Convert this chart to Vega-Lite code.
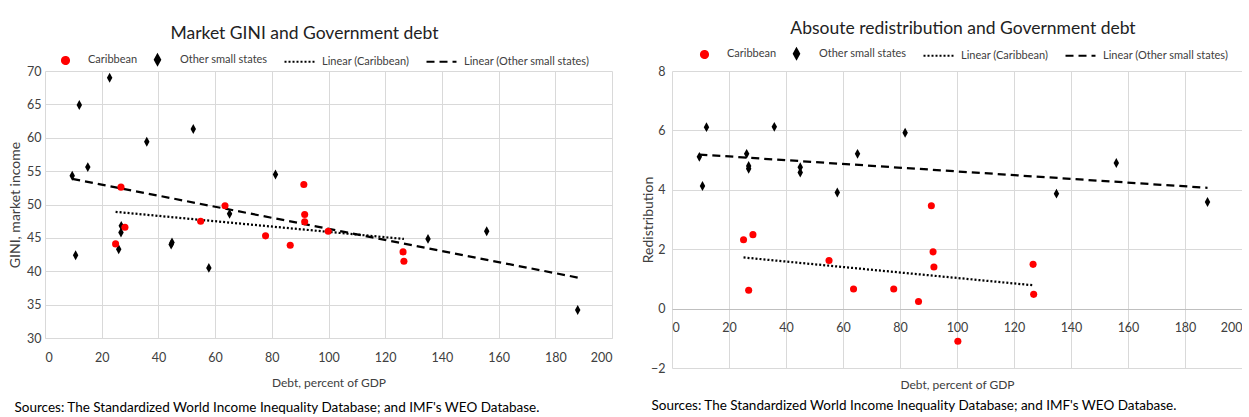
{
  "$schema": "https://vega.github.io/schema/vega-lite/v6.json",
  "background": "white",
  "padding": {"left": 8, "top": 19, "right": 0, "bottom": 0},
  "datasets": {
    "gini": [
      {"debt": 9.6, "value": 54.3, "series": "Other small states", "trend": "Linear (Other small states)"},
      {"debt": 12.1, "value": 64.9, "series": "Other small states", "trend": "Linear (Other small states)"},
      {"debt": 15.1, "value": 55.6, "series": "Other small states", "trend": "Linear (Other small states)"},
      {"debt": 22.8, "value": 69.0, "series": "Other small states", "trend": "Linear (Other small states)"},
      {"debt": 35.9, "value": 59.4, "series": "Other small states", "trend": "Linear (Other small states)"},
      {"debt": 52.3, "value": 61.3, "series": "Other small states", "trend": "Linear (Other small states)"},
      {"debt": 81.3, "value": 54.5, "series": "Other small states", "trend": "Linear (Other small states)"},
      {"debt": 10.8, "value": 42.4, "series": "Other small states", "trend": "Linear (Other small states)"},
      {"debt": 26.9, "value": 46.8, "series": "Other small states", "trend": "Linear (Other small states)"},
      {"debt": 26.8, "value": 45.8, "series": "Other small states", "trend": "Linear (Other small states)"},
      {"debt": 26.0, "value": 43.3, "series": "Other small states", "trend": "Linear (Other small states)"},
      {"debt": 44.5, "value": 44.0, "series": "Other small states", "trend": "Linear (Other small states)"},
      {"debt": 44.8, "value": 44.3, "series": "Other small states", "trend": "Linear (Other small states)"},
      {"debt": 57.8, "value": 40.5, "series": "Other small states", "trend": "Linear (Other small states)"},
      {"debt": 65.1, "value": 48.6, "series": "Other small states", "trend": "Linear (Other small states)"},
      {"debt": 135.1, "value": 44.85, "series": "Other small states", "trend": "Linear (Other small states)"},
      {"debt": 155.8, "value": 46.0, "series": "Other small states", "trend": "Linear (Other small states)"},
      {"debt": 187.9, "value": 34.2, "series": "Other small states", "trend": "Linear (Other small states)"},
      {"debt": 26.8, "value": 52.6, "series": "Caribbean", "trend": "Linear (Caribbean)"},
      {"debt": 91.3, "value": 53.0, "series": "Caribbean", "trend": "Linear (Caribbean)"},
      {"debt": 63.5, "value": 49.8, "series": "Caribbean", "trend": "Linear (Caribbean)"},
      {"debt": 24.9, "value": 44.1, "series": "Caribbean", "trend": "Linear (Caribbean)"},
      {"debt": 28.2, "value": 46.6, "series": "Caribbean", "trend": "Linear (Caribbean)"},
      {"debt": 54.9, "value": 47.5, "series": "Caribbean", "trend": "Linear (Caribbean)"},
      {"debt": 91.6, "value": 48.5, "series": "Caribbean", "trend": "Linear (Caribbean)"},
      {"debt": 91.6, "value": 47.4, "series": "Caribbean", "trend": "Linear (Caribbean)"},
      {"debt": 77.8, "value": 45.3, "series": "Caribbean", "trend": "Linear (Caribbean)"},
      {"debt": 86.5, "value": 43.9, "series": "Caribbean", "trend": "Linear (Caribbean)"},
      {"debt": 99.9, "value": 46.0, "series": "Caribbean", "trend": "Linear (Caribbean)"},
      {"debt": 126.3, "value": 42.9, "series": "Caribbean", "trend": "Linear (Caribbean)"},
      {"debt": 126.6, "value": 41.5, "series": "Caribbean", "trend": "Linear (Caribbean)"}
    ],
    "redis": [
      {"debt": 9.6, "value": 5.11, "series": "Other small states", "trend": "Linear (Other small states)"},
      {"debt": 10.7, "value": 4.13, "series": "Other small states", "trend": "Linear (Other small states)"},
      {"debt": 12.1, "value": 6.11, "series": "Other small states", "trend": "Linear (Other small states)"},
      {"debt": 26.2, "value": 5.21, "series": "Other small states", "trend": "Linear (Other small states)"},
      {"debt": 26.9, "value": 4.8, "series": "Other small states", "trend": "Linear (Other small states)"},
      {"debt": 26.9, "value": 4.71, "series": "Other small states", "trend": "Linear (Other small states)"},
      {"debt": 35.9, "value": 6.12, "series": "Other small states", "trend": "Linear (Other small states)"},
      {"debt": 45.0, "value": 4.76, "series": "Other small states", "trend": "Linear (Other small states)"},
      {"debt": 45.0, "value": 4.58, "series": "Other small states", "trend": "Linear (Other small states)"},
      {"debt": 58.0, "value": 3.91, "series": "Other small states", "trend": "Linear (Other small states)"},
      {"debt": 65.1, "value": 5.21, "series": "Other small states", "trend": "Linear (Other small states)"},
      {"debt": 81.8, "value": 5.92, "series": "Other small states", "trend": "Linear (Other small states)"},
      {"debt": 134.9, "value": 3.87, "series": "Other small states", "trend": "Linear (Other small states)"},
      {"debt": 155.9, "value": 4.9, "series": "Other small states", "trend": "Linear (Other small states)"},
      {"debt": 187.9, "value": 3.59, "series": "Other small states", "trend": "Linear (Other small states)"},
      {"debt": 25.1, "value": 2.32, "series": "Caribbean", "trend": "Linear (Caribbean)"},
      {"debt": 28.4, "value": 2.49, "series": "Caribbean", "trend": "Linear (Caribbean)"},
      {"debt": 26.9, "value": 0.62, "series": "Caribbean", "trend": "Linear (Caribbean)"},
      {"debt": 55.1, "value": 1.62, "series": "Caribbean", "trend": "Linear (Caribbean)"},
      {"debt": 63.7, "value": 0.66, "series": "Caribbean", "trend": "Linear (Caribbean)"},
      {"debt": 77.8, "value": 0.66, "series": "Caribbean", "trend": "Linear (Caribbean)"},
      {"debt": 86.5, "value": 0.24, "series": "Caribbean", "trend": "Linear (Caribbean)"},
      {"debt": 91.0, "value": 3.46, "series": "Caribbean", "trend": "Linear (Caribbean)"},
      {"debt": 91.6, "value": 1.91, "series": "Caribbean", "trend": "Linear (Caribbean)"},
      {"debt": 91.9, "value": 1.4, "series": "Caribbean", "trend": "Linear (Caribbean)"},
      {"debt": 100.3, "value": -1.1, "series": "Caribbean", "trend": "Linear (Caribbean)"},
      {"debt": 126.7, "value": 1.49, "series": "Caribbean", "trend": "Linear (Caribbean)"},
      {"debt": 126.9, "value": 0.48, "series": "Caribbean", "trend": "Linear (Caribbean)"}
    ]
  },
  "hconcat": [
    {
      "title": {"text": "Sources: The Standardized World Income Inequality Database; and IMF's WEO Database.", "orient": "bottom", "anchor": "start", "fontSize": 13.5, "fontWeight": "normal", "color": "#000000", "offset": 12, "dx": 6},
      "resolve": {"scale": {"color": "independent", "shape": "independent", "strokeDash": "independent"}, "legend": {"color": "independent", "shape": "independent", "strokeDash": "independent"}},
      "vconcat": [
        {
          "width": 567,
          "height": 267,
          "title": {"text": "Market GINI and Government debt", "fontSize": 17.5, "fontWeight": "normal", "color": "#222222", "offset": 12, "anchor": "middle", "dx": -24},
          "data": {"name": "gini"},
          "encoding": {
            "x": {"field": "debt", "type": "quantitative", "scale": {"domain": [0, 200], "nice": false, "zero": false},
                  "axis": {"values": [0, 20, 40, 60, 80, 100, 120, 140, 160, 180, 200], "title": "Debt, percent of GDP", "labelPadding": 13, "titlePadding": 14, "domain": true, "domainColor": "#d9d9d9"}},
            "y": {"field": "value", "type": "quantitative", "scale": {"domain": [30, 70], "nice": false, "zero": false},
                  "axis": {"values": [30, 35, 40, 45, 50, 55, 60, 65, 70], "title": "GINI, market income", "titleFontSize": 14, "labelPadding": 4, "titlePadding": 4, "domain": false}}
          },
          "layer": [
            {
              "transform": [{"regression": "value", "on": "debt", "groupby": ["trend"]}],
              "mark": {"type": "line", "strokeWidth": 2.25},
              "encoding": {
                "color": {"field": "trend", "type": "nominal",
                  "scale": {"domain": ["Caribbean", "Other small states", "Linear (Caribbean)", "Linear (Other small states)"], "range": ["#ff0000", "#000000", "#000000", "#000000"]},
                  "legend": {"orient": "none", "legendX": 15, "legendY": -17, "direction": "horizontal", "title": null}},
                "strokeDash": {"field": "trend", "type": "nominal",
                  "scale": {"domain": ["Caribbean", "Other small states", "Linear (Caribbean)", "Linear (Other small states)"], "range": [[1, 0], [1, 0], [2, 2], [8, 5]]},
                  "legend": {"orient": "none", "legendX": 15, "legendY": -17, "direction": "horizontal", "title": null}}
              }
            },
            {
              "mark": {"type": "point", "filled": true, "opacity": 1, "size": 50},
              "encoding": {
                "color": {"field": "series", "type": "nominal",
                  "scale": {"domain": ["Caribbean", "Other small states", "Linear (Caribbean)", "Linear (Other small states)"], "range": ["#ff0000", "#000000", "#000000", "#000000"]}},
                "shape": {"field": "series", "type": "nominal",
                  "scale": {"domain": ["Caribbean", "Other small states", "Linear (Caribbean)", "Linear (Other small states)"], "range": ["circle", "M0,-1.4L0.77,0L0,1.4L-0.77,0Z", "M-4.24,0L4.24,0", "M-4.24,0L4.24,0"]},
                  "legend": {"orient": "none", "legendX": 15, "legendY": -17, "direction": "horizontal", "title": null}}
              }
            }
          ]
        }
      ]
    },
    {
      "title": {"text": "Sources: The Standardized World Income Inequality Database; and IMF's WEO Database.", "orient": "bottom", "anchor": "start", "fontSize": 13.5, "fontWeight": "normal", "color": "#000000", "offset": 8, "dx": 10},
      "resolve": {"scale": {"color": "independent", "shape": "independent", "strokeDash": "independent"}, "legend": {"color": "independent", "shape": "independent", "strokeDash": "independent"}},
      "vconcat": [
        {
          "width": 570,
          "height": 297,
          "title": {"text": "Absoute redistribution and Government debt", "fontSize": 17.5, "fontWeight": "normal", "color": "#222222", "offset": 11, "anchor": "middle", "dx": 6},
          "data": {"name": "redis"},
          "encoding": {
            "x": {"field": "debt", "type": "quantitative", "scale": {"domain": [0, 200], "nice": false, "zero": false},
                  "axis": {"values": [0, 20, 40, 60, 80, 100, 120, 140, 160, 180, 200], "title": "Debt, percent of GDP", "offset": -59, "labelPadding": 12, "titlePadding": 46, "domain": true, "domainColor": "#bfbfbf"}},
            "y": {"field": "value", "type": "quantitative", "scale": {"domain": [-2, 8], "nice": false, "zero": false},
                  "axis": {"values": [-2, 0, 2, 4, 6, 8], "title": "Redistribution", "titleFontSize": 14, "labelPadding": 7, "titlePadding": -5, "domain": false}}
          },
          "layer": [
            {
              "transform": [{"regression": "value", "on": "debt", "groupby": ["trend"]}],
              "mark": {"type": "line", "strokeWidth": 2.25},
              "encoding": {
                "color": {"field": "trend", "type": "nominal",
                  "scale": {"domain": ["Caribbean", "Other small states", "Linear (Caribbean)", "Linear (Other small states)"], "range": ["#ff0000", "#000000", "#000000", "#000000"]},
                  "legend": {"orient": "none", "legendX": 27, "legendY": -23, "direction": "horizontal", "title": null}},
                "strokeDash": {"field": "trend", "type": "nominal",
                  "scale": {"domain": ["Caribbean", "Other small states", "Linear (Caribbean)", "Linear (Other small states)"], "range": [[1, 0], [1, 0], [2, 2], [8, 5]]},
                  "legend": {"orient": "none", "legendX": 27, "legendY": -23, "direction": "horizontal", "title": null}}
              }
            },
            {
              "mark": {"type": "point", "filled": true, "opacity": 1, "size": 50},
              "encoding": {
                "color": {"field": "series", "type": "nominal",
                  "scale": {"domain": ["Caribbean", "Other small states", "Linear (Caribbean)", "Linear (Other small states)"], "range": ["#ff0000", "#000000", "#000000", "#000000"]}},
                "shape": {"field": "series", "type": "nominal",
                  "scale": {"domain": ["Caribbean", "Other small states", "Linear (Caribbean)", "Linear (Other small states)"], "range": ["circle", "M0,-1.4L0.77,0L0,1.4L-0.77,0Z", "M-4.24,0L4.24,0", "M-4.24,0L4.24,0"]},
                  "legend": {"orient": "none", "legendX": 27, "legendY": -23, "direction": "horizontal", "title": null}}
              }
            }
          ]
        }
      ]
    }
  ],
  "spacing": 29,
  "resolve": {"scale": {"color": "independent", "shape": "independent", "strokeDash": "independent"}, "legend": {"color": "independent", "shape": "independent", "strokeDash": "independent"}},
  "config": {
    "font": "Lato",
    "view": {"stroke": null},
    "title": {"font": "Lato"},
    "legend": {"labelFont": "Lato", "labelFontSize": 11, "labelColor": "#404040", "labelOffset": 17, "columnPadding": 12, "symbolSize": 50, "symbolStrokeWidth": 2, "symbolOpacity": 1},
    "axis": {
      "labelFont": "Lato",
      "labelFontSize": 12.5,
      "labelColor": "#404040",
      "titleFont": "Lato",
      "titleFontSize": 12,
      "titleFontWeight": "normal",
      "titleColor": "#404040",
      "gridColor": "#d9d9d9",
      "gridWidth": 1,
      "ticks": false
    }
  }
}
